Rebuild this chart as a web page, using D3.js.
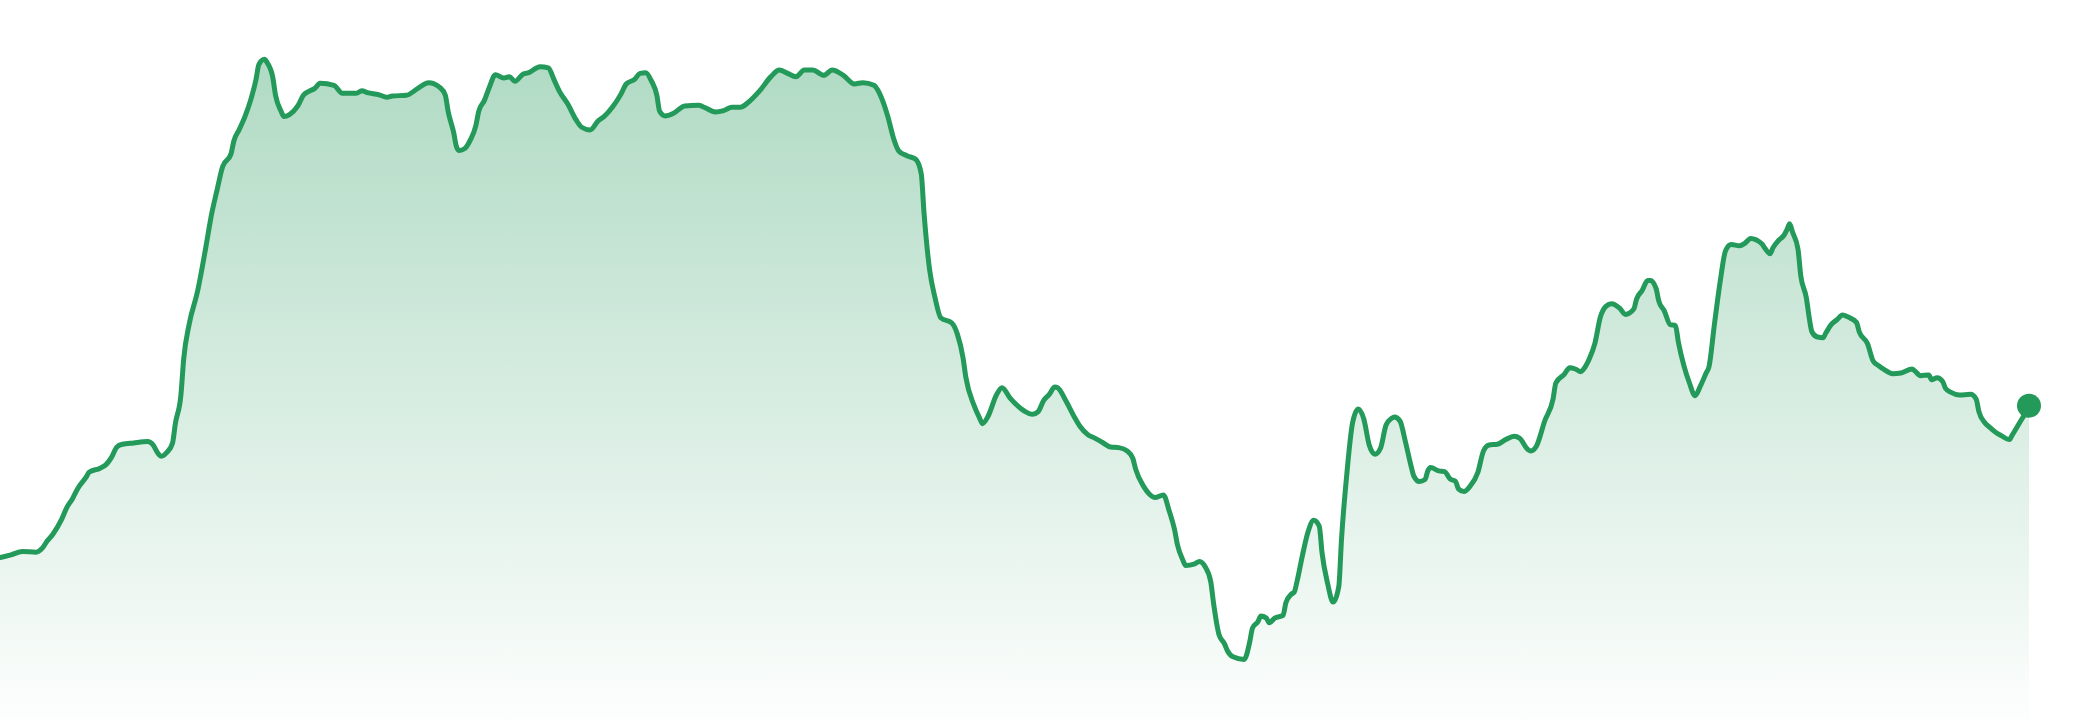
<!DOCTYPE html>
<html>
<head>
<meta charset="utf-8">
<script src="https://cdn.jsdelivr.net/npm/d3@7"></script>
<style>
  html, body { margin: 0; padding: 0; background: #fff; overflow: hidden; }
  svg { display: block; }
</style>
</head>
<body>
<div id="chart"></div>
<script>
// day index (0..729) and value
const DAYS = [
  0, 4, 8, 13, 15, 17, 19, 22, 24, 26, 28, 31, 32, 36, 38, 40, 42, 44, 48, 53,
  55, 57, 58, 60, 62, 63, 65, 66, 68, 71, 72, 74, 76, 78, 80, 83, 84, 86, 88, 90,
  92, 93, 95, 96, 98, 99, 101, 102, 104, 107, 109, 111, 113, 115, 120, 123, 128, 130, 132, 136,
  139, 141, 146, 150, 154, 158, 160, 161, 163, 164, 165, 167, 169, 171, 172, 174, 176, 178, 181, 183,
  185, 188, 190, 194, 197, 199, 201, 204, 207, 209, 212, 215, 217, 220, 223, 225, 228, 230, 232, 234,
  236, 237, 239, 242, 246, 251, 253, 257, 260, 263, 266, 269, 273, 277, 280, 283, 286, 289, 292, 296,
  299, 303, 307, 310, 314, 316, 319, 321, 323, 326, 329, 331, 332, 334, 336, 338, 342, 344, 346, 347,
  350, 352, 353, 355, 358, 360, 363, 368, 371, 373, 375, 377, 379, 380, 383, 386, 388, 391, 393, 396,
  399, 402, 405, 407, 408, 411, 413, 415, 418, 420, 422, 423, 425, 426, 429, 431, 433, 435, 436, 438,
  440, 441, 443, 447, 449, 450, 452, 453, 455, 456, 458, 461, 462, 464, 465, 466, 468, 470, 472, 474,
  475, 477, 479, 481, 482, 484, 486, 488, 490, 492, 494, 496, 498, 500, 501, 503, 505, 507, 508, 510,
  512, 513, 514, 517, 519, 521, 523, 524, 526, 528, 531, 533, 535, 538, 541, 544, 546, 549, 550, 552,
  555, 558, 559, 562, 564, 566, 568, 569, 571, 573, 575, 577, 579, 582, 584, 587, 588, 590, 592, 593,
  595, 596, 598, 600, 602, 603, 605, 607, 609, 611, 613, 614, 616, 618, 620, 622, 625, 627, 629, 633,
  634, 636, 637, 639, 641, 642, 643, 644, 646, 647, 649, 650, 651, 653, 655, 656, 658, 660, 662, 664,
  667, 668, 671, 673, 675, 677, 680, 683, 687, 688, 690, 693, 694, 696, 698, 699, 701, 704, 708, 710,
  711, 713, 715, 717, 719, 722, 723, 726, 728, 729
];

const VALUES = [
  24.4, 24.8, 25.3, 25.2, 25.7, 26.9, 27.9, 30.0, 31.9, 33.2, 34.8, 36.5, 37.2, 37.8, 38.3, 39.4, 41.0, 41.4, 41.6, 41.8,
  41.3, 39.9, 39.6, 40.2, 41.6, 44.5, 48.8, 54.2, 59.5, 64.4, 66.5, 71.1, 75.9, 79.6, 83.1, 85.0, 86.9, 88.7, 90.6, 93.0,
  96.2, 98.4, 99.2, 98.7, 96.5, 93.8, 91.4, 90.6, 90.9, 92.2, 93.8, 94.4, 94.8, 95.6, 95.3, 94.1, 94.1, 94.5, 94.2, 93.9,
  93.5, 93.7, 93.8, 94.8, 95.7, 95.0, 93.8, 91.4, 88.2, 86.1, 85.5, 85.8, 87.1, 89.3, 91.4, 93.0, 95.2, 96.9, 96.4, 96.6,
  95.9, 97.0, 97.2, 98.1, 97.9, 96.2, 94.4, 92.5, 90.1, 89.0, 88.6, 90.0, 90.6, 92.0, 93.9, 95.5, 96.2, 97.1, 97.2, 96.0,
  93.8, 91.4, 90.7, 91.1, 92.2, 92.3, 92.0, 91.3, 91.5, 92.0, 92.0, 92.8, 94.5, 96.6, 97.6, 97.1, 96.6, 97.6, 97.6, 96.8,
  97.6, 96.8, 95.5, 95.7, 95.3, 94.1, 90.6, 87.4, 85.4, 84.7, 84.2, 82.0, 76.1, 67.6, 63.3, 60.4, 59.6, 57.9, 54.4, 51.5,
  47.2, 45.3, 44.5, 45.6, 48.8, 49.9, 48.3, 46.4, 45.9, 46.3, 48.0, 48.9, 50.0, 49.9, 47.9, 45.5, 44.1, 42.8, 42.4, 41.7,
  41.0, 40.9, 40.4, 39.3, 37.7, 35.0, 33.9, 33.4, 33.8, 31.5, 28.6, 26.4, 24.0, 23.2, 23.4, 23.8, 23.0, 20.8, 17.6, 12.8,
  11.4, 10.4, 9.5, 9.1, 11.7, 13.8, 14.8, 15.6, 15.3, 14.6, 15.3, 15.7, 17.6, 18.9, 19.2, 20.8, 24.8, 28.3, 30.0, 29.1,
  25.1, 20.5, 17.7, 20.0, 27.2, 37.4, 44.7, 46.7, 45.2, 41.2, 39.9, 40.8, 44.3, 45.3, 45.5, 44.9, 41.7, 38.1, 36.6, 35.8,
  36.1, 37.4, 37.9, 37.4, 37.3, 36.2, 35.8, 34.7, 34.3, 35.0, 37.2, 40.4, 41.3, 41.4, 42.1, 42.6, 42.3, 40.6, 40.4, 41.1,
  44.9, 48.2, 50.6, 51.9, 52.9, 52.7, 52.3, 52.7, 54.2, 56.5, 60.5, 62.1, 62.5, 61.8, 60.9, 61.7, 63.2, 64.5, 66.0, 66.0,
  64.8, 62.9, 61.4, 59.4, 59.2, 56.8, 53.2, 50.6, 48.7, 50.2, 52.1, 53.0, 59.5, 65.7, 70.5, 71.4, 71.2, 71.6, 72.3, 71.5,
  70.9, 70.0, 70.9, 72.0, 72.8, 73.6, 74.5, 73.3, 70.7, 66.7, 63.4, 60.5, 58.3, 57.5, 57.4, 58.1, 59.4, 60.1, 60.8, 60.5,
  59.7, 58.3, 56.5, 53.9, 53.2, 52.6, 52.0, 52.1, 52.7, 52.4, 51.7, 51.8, 51.1, 51.4, 50.8, 49.8, 49.2, 48.8, 48.9, 48.2,
  46.3, 44.7, 43.9, 43.2, 42.7, 42.1, 42.8, 44.9, 46.3, 47.2
];

const WIDTH = 2080;
const HEIGHT = 720;
const MARGIN = { top: 54, right: 51, bottom: 0, left: 0 };
const GREEN = "#23995a";

const data = DAYS.map((d, i) => ({ day: d, value: VALUES[i] }));

const x = d3.scaleLinear()
            .domain([0, 729])
            .range([MARGIN.left, WIDTH - MARGIN.right]);

const y = d3.scaleLinear()
            .domain([0, 100])
            .range([HEIGHT - MARGIN.bottom, MARGIN.top]);

const svg = d3.select("#chart")
              .append("svg")
              .attr("width", WIDTH)
              .attr("height", HEIGHT);

const grad = svg.append("defs")
                .append("linearGradient")
                .attr("id", "fade")
                .attr("gradientUnits", "userSpaceOnUse")
                .attr("x1", 0).attr("x2", 0)
                .attr("y1", y(d3.max(VALUES)))
                .attr("y2", HEIGHT);

grad.append("stop").attr("offset", "0%").attr("stop-color", GREEN).attr("stop-opacity", 0.36);
grad.append("stop").attr("offset", "100%").attr("stop-color", GREEN).attr("stop-opacity", 0.01);

const area = d3.area()
               .x(d => x(d.day))
               .y0(HEIGHT)
               .y1(d => y(d.value))
               .curve(d3.curveMonotoneX);

const line = d3.line()
               .x(d => x(d.day))
               .y(d => y(d.value))
               .curve(d3.curveMonotoneX);

svg.append("path")
   .datum(data)
   .attr("d", area)
   .attr("fill", "url(#fade)");

svg.append("path")
   .datum(data)
   .attr("d", line)
   .attr("fill", "none")
   .attr("stroke", GREEN)
   .attr("stroke-width", 5)
   .attr("stroke-linejoin", "round")
   .attr("stroke-linecap", "round");

// marker on the last value
const last = data[data.length - 1];
svg.append("circle")
   .attr("cx", x(last.day))
   .attr("cy", y(last.value))
   .attr("r", 12)
   .attr("fill", GREEN);
</script>
</body>
</html>
